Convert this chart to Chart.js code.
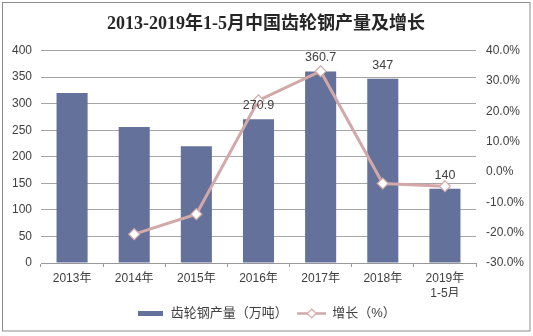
<!DOCTYPE html>
<html>
<head>
<meta charset="utf-8">
<script src="https://cdn.jsdelivr.net/npm/chart.js@4"></script>
<style>
html,body{margin:0;padding:0;background:#fff;}
canvas{display:block;}
</style>
</head>
<body>
<canvas id="c" width="533" height="336"></canvas>
<script>
const categories = ["2013年","2014年","2015年","2016年","2017年","2018年",["2019年","1-5月"]];
const production = [320, 256, 220, 270.9, 360.7, 347, 140];
const growth = [null, -20.5, -13.9, 23.6, 33.2, -3.8, -4.7];
const barLabels = [null, null, null, "270.9", "360.7", "347", "140"];
const leftTicks = {min: 0, max: 400, step: 50};
const rightTicks = {min: -30, max: 40, step: 10};
const seriesNames = ["齿轮钢产量（万吨）", "增长（%）"];

const BAR_COLOR = '#64729B';
const LINE_COLOR = '#D2A8A8';
const TEXT = '#404040';
const SANS = '"Liberation Sans", "Noto Sans CJK SC", sans-serif';

function makeBarSwatch(){
  const c = document.createElement('canvas'); c.width = 25; c.height = 5;
  const x = c.getContext('2d'); x.fillStyle = BAR_COLOR; x.fillRect(0,0,25,5); return c;
}
function makeLineSwatch(){
  const c = document.createElement('canvas'); c.width = 29; c.height = 11;
  const x = c.getContext('2d');
  x.strokeStyle = LINE_COLOR; x.lineWidth = 2.5;
  x.beginPath(); x.moveTo(0,5.5); x.lineTo(29,5.5); x.stroke();
  x.fillStyle = '#fff'; x.lineWidth = 1.2;
  x.beginPath(); x.moveTo(14.5,1); x.lineTo(19,5.5); x.lineTo(14.5,10); x.lineTo(10,5.5); x.closePath();
  x.fill(); x.stroke();
  return c;
}
const swatches = [makeBarSwatch(), makeLineSwatch()];

const framePlugin = {
  id: 'frame',
  beforeDraw(chart){
    const ctx = chart.ctx; ctx.save(); ctx.fillStyle = '#fff';
    ctx.fillRect(0,0,chart.width,chart.height); ctx.restore();
  },
  afterDraw(chart){
    const ctx = chart.ctx; ctx.save(); ctx.strokeStyle = '#8C8C8C'; ctx.lineWidth = 1;
    ctx.strokeRect(2.5, 2.5, 527.5, 328.5); ctx.restore();
  }
};

const barLabelPlugin = {
  id: 'barLabels',
  afterDatasetsDraw(chart){
    const meta = chart.getDatasetMeta(0);
    const ctx = chart.ctx; ctx.save();
    ctx.fillStyle = TEXT; ctx.font = '12.5px ' + SANS;
    ctx.textAlign = 'center'; ctx.textBaseline = 'middle';
    meta.data.forEach((el, i) => {
      if (barLabels[i] == null) return;
      ctx.fillText(barLabels[i], el.x, el.y - 13.5);
    });
    ctx.restore();
  }
};

new Chart(document.getElementById('c'), {
  data: {
    labels: categories,
    datasets: [
      {type: 'bar', label: seriesNames[0], data: production, yAxisID: 'y',
       backgroundColor: BAR_COLOR, categoryPercentage: 1, barPercentage: 0.5, order: 1},
      {type: 'line', label: seriesNames[1], data: growth, yAxisID: 'y1',
       borderColor: LINE_COLOR, borderWidth: 3, tension: 0,
       pointStyle: 'rectRot', pointRadius: 5.5, pointBackgroundColor: '#fff',
       pointBorderColor: LINE_COLOR, pointBorderWidth: 1.2, order: 0}
    ]
  },
  options: {
    responsive: false, animation: false,
    layout: {padding: {left: 3, right: 4, top: 0, bottom: 6}},
    plugins: {
      title: {display: true, text: '2013-2019年1-5月中国齿轮钢产量及增长', color: '#262626',
        font: {family: '"Liberation Serif", "Noto Sans CJK SC", serif', size: 18, weight: 'bold', lineHeight: 1.2},
        padding: {top: 14, bottom: 15}},
      legend: {position: 'bottom',
        labels: {usePointStyle: true, pointStyleWidth: 28, boxHeight: 11, padding: 10,
          color: TEXT, font: {family: SANS, size: 13},
          sort: (a, b) => a.datasetIndex - b.datasetIndex,
          generateLabels(chart){
            const items = Chart.defaults.plugins.legend.labels.generateLabels(chart);
            items.forEach(it => { it.pointStyle = swatches[it.datasetIndex]; });
            return items;
          }}},
      tooltip: {enabled: false}
    },
    scales: {
      x: {type: 'category', offset: true,
        grid: {offset: true, drawOnChartArea: false, drawTicks: true, tickLength: 4, color: '#999'},
        border: {display: true, color: '#999'},
        ticks: {color: TEXT, font: {family: SANS, size: 12, lineHeight: 1.25}, padding: 4,
          maxRotation: 0, autoSkip: false},
        afterFit(s){ s.height = 34; }},
      y: {position: 'left', min: leftTicks.min, max: leftTicks.max,
        grid: {color: '#A6A6A6', drawTicks: false},
        border: {display: false},
        ticks: {stepSize: leftTicks.step, color: TEXT, font: {family: SANS, size: 12}, padding: 9},
        afterFit(s){ s.width = 38; }},
      y1: {position: 'right', min: rightTicks.min, max: rightTicks.max,
        grid: {display: false, drawTicks: false},
        border: {display: false},
        ticks: {stepSize: rightTicks.step, color: TEXT, font: {family: SANS, size: 12}, padding: 10,
          callback: v => v.toFixed(1) + '%'},
        afterFit(s){ s.width = 53; }}
    }
  },
  plugins: [framePlugin, barLabelPlugin]
});
</script>
</body>
</html>
